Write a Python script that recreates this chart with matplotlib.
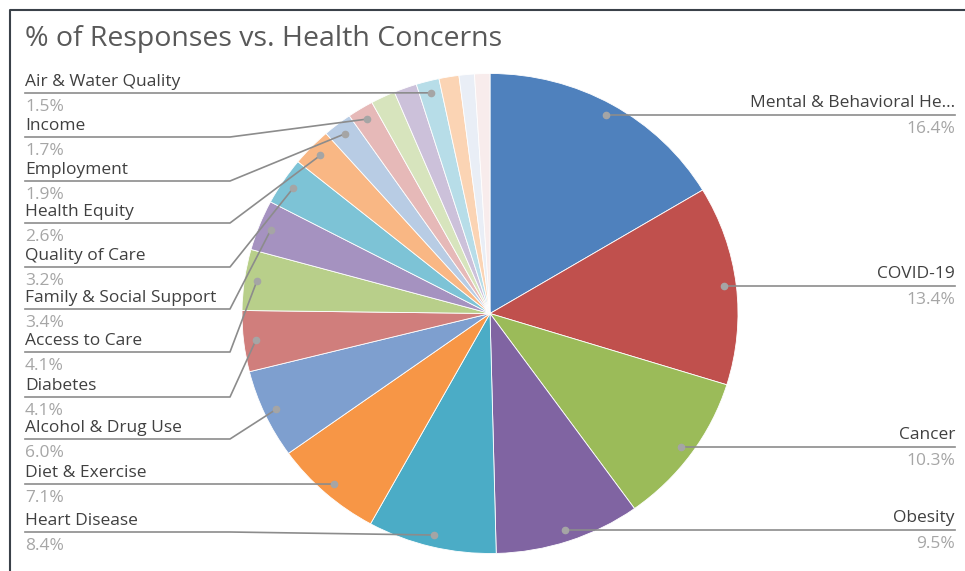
import numpy as np
import matplotlib
matplotlib.use('Agg')
import matplotlib.pyplot as plt

plt.rcParams['font.family'] = ['Open Sans', 'DejaVu Sans']

# slices, clockwise from 12 o'clock
labels = ['Mental & Behavioral He...', 'COVID-19', 'Cancer', 'Obesity', 'Heart Disease',
          'Diet & Exercise', 'Alcohol & Drug Use', 'Diabetes', 'Access to Care',
          'Family & Social Support', 'Quality of Care', 'Health Equity', 'Employment',
          'Income', '', '', 'Air & Water Quality', '', '', '']
shares = [16.4, 13.4, 10.3, 9.5, 8.4, 7.1, 6.0, 4.1, 4.1, 3.4,
          3.2, 2.6, 1.9, 1.7, 1.6, 1.5, 1.5, 1.3, 1.0, 1.0]
colors = ['#4F81BD', '#C0504D', '#9BBB59', '#8064A2', '#4BACC6', '#F79646',
          '#7E9FCF', '#D07E7C', '#B8CF8A', '#A592C0', '#7DC3D6', '#F9B784',
          '#B8CCE4', '#E6B9B8', '#D7E4BD', '#CCC1DA', '#B7DDE8', '#FBD4B4',
          '#E9EEF6', '#F8ECEC']

right_idx = [0, 1, 2, 3]
left_idx = [16, 13, 12, 11, 10, 9, 8, 7, 6, 5, 4]
left_y = [93, 137, 181, 223, 267, 309, 352, 397, 439, 484, 532]

W, H = 965, 571
fig = plt.figure(figsize=(W / 100, H / 100), dpi=100)
fig.patch.set_facecolor('white')

cx, cy, rx, ry = 490, 313.5, 248, 240
pax = fig.add_axes([(cx - rx) / W, (H - cy - ry) / H, 2 * rx / W, 2 * ry / H])
pax.pie(shares, colors=colors, startangle=90, counterclock=False, radius=1,
        wedgeprops=dict(edgecolor='white', linewidth=0.6))
pax.set_aspect('auto')
pax.set_xlim(-1, 1)
pax.set_ylim(-1, 1)

ov = fig.add_axes([0, 0, 1, 1])
ov.set_xlim(0, W)
ov.set_ylim(H, 0)
ov.axis('off')

vals = np.array(shares)
mid = np.radians((np.cumsum(vals) - vals / 2) / vals.sum() * 360)
dot_x = cx + 0.95 * rx * np.sin(mid)
dot_y = cy - 0.95 * ry * np.cos(mid)

line_c = '#8c8c8c'
name_c = '#404040'
pct_c = '#a6a6a6'
fs = 12.5

for i in right_idx:
    y = dot_y[i]
    ov.plot([dot_x[i], 955], [y, y], color=line_c, lw=1.2)
    ov.plot(dot_x[i], y, 'o', color='#a5a5a5', ms=4.5)
    ov.text(955, y - 12, labels[i], ha='right', va='center', fontsize=fs, color=name_c)
    ov.text(955, y + 14, f'{shares[i]:.1f}%', ha='right', va='center', fontsize=fs, color=pct_c)

for i, y in zip(left_idx, left_y):
    ov.plot([25, 230, dot_x[i]], [y, y, dot_y[i]], color=line_c, lw=1.2)
    ov.plot(dot_x[i], dot_y[i], 'o', color='#a5a5a5', ms=4.5)
    ov.text(25, y - 11, labels[i], ha='left', va='center', fontsize=fs, color=name_c)
    ov.text(25, y + 14, f'{shares[i]:.1f}%', ha='left', va='center', fontsize=fs, color=pct_c)

ov.text(25, 39, '% of Responses vs. Health Concerns', ha='left', va='center',
        fontsize=20.5, color='#595959')

# chart frame (top and left edges visible)
ov.plot([10, 10, W], [H, 10, 10], color='#3a4149', lw=1.5)

fig.savefig('out.png', dpi=100)
